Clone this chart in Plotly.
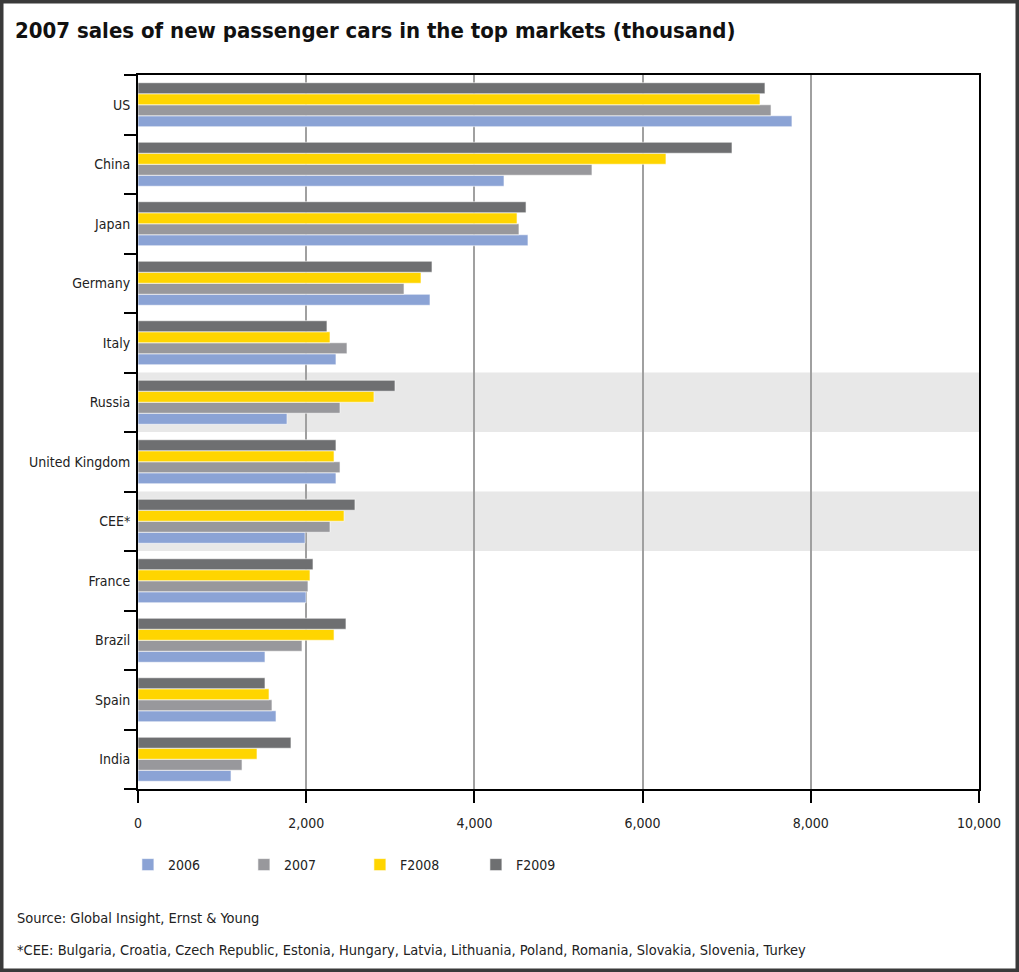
import plotly.graph_objects as go

categories = ["US", "China", "Japan", "Germany", "Italy", "Russia", "United Kingdom",
              "CEE*", "France", "Brazil", "Spain", "India"]
series_names = ["2006", "2007", "F2008", "F2009"]
v2006 = [7776, 4352, 4637, 3472, 2354, 1772, 2354, 1986, 1998, 1510, 1641, 1106]
v2007 = [7527, 5398, 4530, 3163, 2485, 2402, 2402, 2283, 2021, 1950, 1593, 1237]
vF2008 = [7396, 6278, 4507, 3365, 2283, 2806, 2331, 2450, 2045, 2331, 1558, 1415]
vF2009 = [7455, 7063, 4614, 3496, 2247, 3056, 2354, 2580, 2081, 2473, 1510, 1819]
shaded = ["Russia", "CEE*"]
x_ticks = [0, 2000, 4000, 6000, 8000, 10000]

colors = ["#8BA3D5", "#98989C", "#FFD500", "#6E6F71"]
FONT = "DejaVu Sans Condensed, Liberation Sans Narrow, Arial Narrow, sans-serif"

fig = go.Figure()
for name, vals, col in zip(series_names, [v2006, v2007, vF2008, vF2009], colors):
    fig.add_trace(go.Bar(
        y=categories, x=vals, name=name, orientation="h",
        marker=dict(color=col, line=dict(color="white", width=0.6)),
    ))

cat_order = categories[::-1]  # bottom-to-top
shapes = []
for c in shaded:
    i = cat_order.index(c)
    shapes.append(dict(type="rect", xref="paper", yref="y", x0=0, x1=1,
                       y0=i - 0.5, y1=i + 0.5, fillcolor="#E8E8E8",
                       line=dict(width=0), layer="below"))

# outer frame
L, R, T, B = 138, 979, 75, 789
W, H = 1019, 972
pw, ph = R - L, B - T
shapes.append(dict(type="rect", xref="paper", yref="paper",
                   x0=(1 - L) / pw, x1=(W - 1 - L) / pw,
                   y0=(B - (H - 1)) / ph, y1=(B - 1) / ph,
                   line=dict(color="#3A3A3A", width=5), layer="above"))

fig.update_layout(
    width=W, height=H,
    margin=dict(l=L, r=W - R, t=T, b=H - B),
    paper_bgcolor="white", plot_bgcolor="white",
    barmode="group", bargap=0.26, bargroupgap=0,
    font=dict(family=FONT, size=14, color="#222222"),
    title=dict(text="<b>2007 sales of new passenger cars in the top markets (thousand)</b>",
               x=15 / W, xanchor="left", xref="container",
               y=1 - 30 / H, yanchor="middle", yref="container",
               font=dict(family=FONT, size=22, color="#111111")),
    xaxis=dict(range=[0, 10000], tickvals=x_ticks, tickformat=",",
               showgrid=True, gridcolor="#A0A0A0", gridwidth=1.5,
               showline=True, linecolor="black", linewidth=2, mirror=True,
               ticks="outside", ticklen=12, tickcolor="black", tickwidth=1.5,
               zeroline=False, ticklabelstandoff=8,
               tickfont=dict(family=FONT, size=14, color="#222222")),
    yaxis=dict(type="category", categoryorder="array", categoryarray=cat_order,
               tickson="boundaries", showgrid=False,
               showline=True, linecolor="black", linewidth=2, mirror=True,
               ticks="outside", ticklen=12, tickcolor="black", tickwidth=1.5,
               ticklabelstandoff=3,
               tickfont=dict(family=FONT, size=14, color="#222222")),
    legend=dict(orientation="h", x=-0.012, xanchor="left", y=(B - 865) / ph,
                yanchor="middle", entrywidth=71, entrywidthmode="pixels",
                font=dict(family=FONT, size=14, color="#222222"),
                bgcolor="rgba(0,0,0,0)"),
    shapes=shapes,
    annotations=[
        dict(text="Source: Global Insight, Ernst & Young", xref="paper", yref="paper",
             x=(15 - L) / pw, y=(B - 918) / ph, xanchor="left", yanchor="middle",
             showarrow=False, font=dict(family=FONT, size=14.5, color="#222222")),
        dict(text="*CEE: Bulgaria, Croatia, Czech Republic, Estonia, Hungary, Latvia, Lithuania, "
                  "Poland, Romania, Slovakia, Slovenia, Turkey",
             xref="paper", yref="paper",
             x=(15 - L) / pw, y=(B - 950) / ph, xanchor="left", yanchor="middle",
             showarrow=False, font=dict(family=FONT, size=14.5, color="#222222")),
    ],
)

fig.write_html("out.html")
